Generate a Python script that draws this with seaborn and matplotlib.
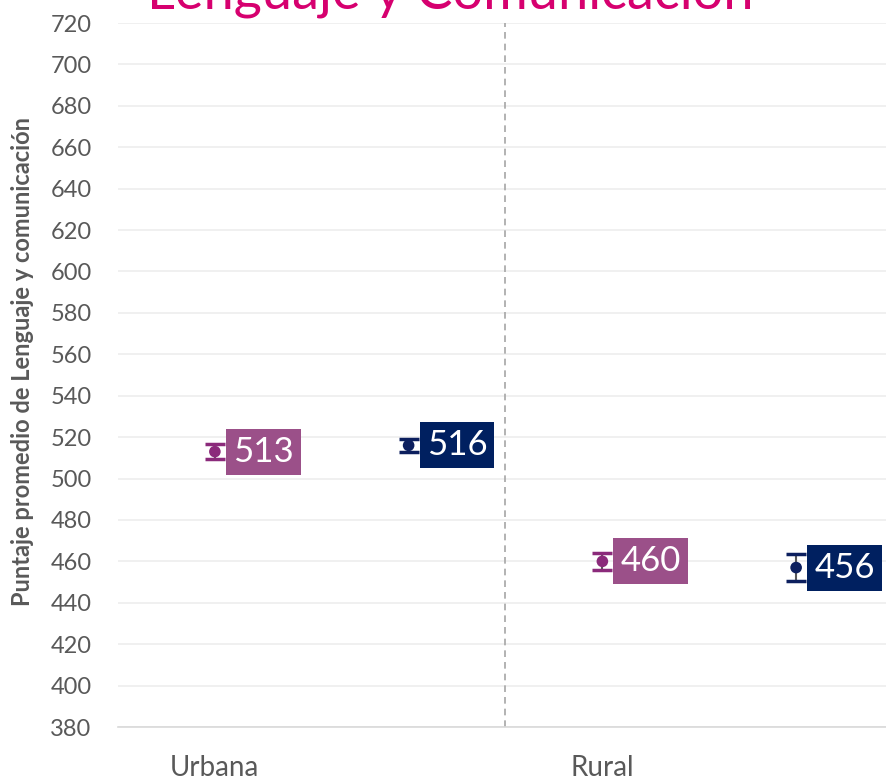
import pandas as pd
import seaborn as sns
import matplotlib.pyplot as plt

# datos
zonas = ["Urbana", "Rural"]
series = ["Serie 1", "Serie 2"]
promedio_s1 = [513, 460]
promedio_s2 = [516, 457]
etiqueta_s1 = [513, 460]
etiqueta_s2 = [516, 456]
error_s1 = [3.6, 4.2]
error_s2 = [3.0, 6.7]

color_punto = {"Serie 1": "#8B2A7B", "Serie 2": "#0C1F5E"}
color_caja = {"Serie 1": "#9B5089", "Serie 2": "#002060"}

filas = []
for i, z in enumerate(zonas):
    filas.append({"zona": z, "serie": series[0], "pos": i * 2, "valor": promedio_s1[i],
                  "etiqueta": etiqueta_s1[i], "error": error_s1[i]})
    filas.append({"zona": z, "serie": series[1], "pos": i * 2 + 1, "valor": promedio_s2[i],
                  "etiqueta": etiqueta_s2[i], "error": error_s2[i]})
df = pd.DataFrame(filas)

sns.set_style("white")
plt.rcParams['font.family'] = ['Lato', 'DejaVu Sans']

fig = plt.figure(figsize=(8.87, 7.81), dpi=100)
ax = fig.add_axes([118 / 887, 1 - 727 / 781, 775 / 887, 704 / 781])

# barras de error: tallo gris, topes del color de la serie
for _, r in df.iterrows():
    _, caps, _ = ax.errorbar(r["pos"], r["valor"], yerr=r["error"], fmt="none",
                             ecolor="#595959", elinewidth=1.5, capsize=7, capthick=2.5, zorder=2)
    for c in caps:
        c.set_markeredgecolor(color_punto[r["serie"]])
        c.set_color(color_punto[r["serie"]])

sns.scatterplot(data=df, x="pos", y="valor", hue="serie", palette=color_punto,
                s=70, edgecolor="none", legend=False, zorder=3, ax=ax)

for _, r in df.iterrows():
    ax.annotate(str(r["etiqueta"]), (r["pos"], r["valor"]), xytext=(13, 0),
                textcoords="offset points", ha="left", va="center", fontsize=25, color="white",
                bbox=dict(boxstyle="square,pad=0.2", fc=color_caja[r["serie"]], ec="none"), zorder=4)

ax.set_xlim(-0.5, 3.5)
ax.set_ylim(380, 720)
ax.set_yticks(range(380, 721, 20))
ax.set_xticks([0, 2])
ax.set_xticklabels(zonas)
ax.set_xticks([-0.5, 0.5, 1.5, 2.5, 3.5], minor=True)
ax.tick_params(axis="y", length=0, labelsize=17, labelcolor="#595959", pad=19)
ax.tick_params(axis="x", which="major", length=0, labelsize=20, labelcolor="#595959", pad=20)
ax.tick_params(axis="x", which="minor", length=7, width=1, color="#D9D9D9", direction="out")
ax.set_xlabel("")
ax.set_ylabel("")

ax.yaxis.grid(True, color="#EDEDED", lw=1.2)
ax.xaxis.grid(False)
ax.set_axisbelow(True)
for s in ["top", "right", "left"]:
    ax.spines[s].set_visible(False)
ax.spines["bottom"].set_color("#D9D9D9")
ax.spines["bottom"].set_linewidth(1.2)

ax.axvline(1.5, color="#A6A6A6", ls=(0, (4, 3)), lw=1.2, zorder=1)

fig.text(450 / 887, 1 - 8 / 781, "Lenguaje y Comunicación", ha="center", va="baseline",
         fontsize=39, color="#D6006F")
fig.text(23 / 887, 1 - 361 / 781, "Puntaje promedio de Lenguaje y comunicación", rotation=90,
         ha="center", va="center", fontsize=17, fontweight="bold", color="#595959")

fig.savefig("out.png", dpi=100)
